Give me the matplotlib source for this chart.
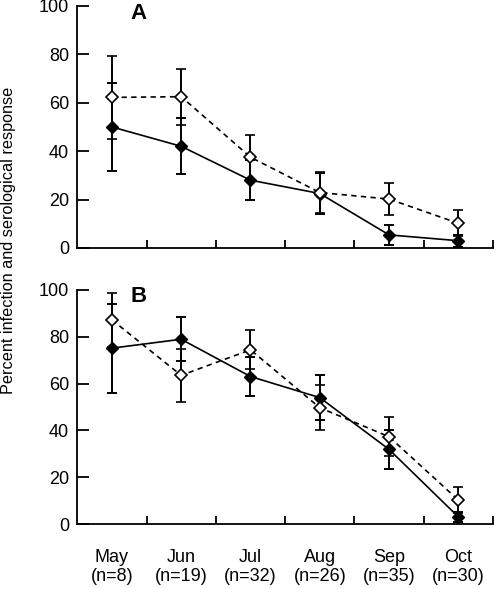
import matplotlib
matplotlib.use('Agg')
import matplotlib.pyplot as plt

plt.rcParams['font.family'] = ['Liberation Sans', 'DejaVu Sans']

months = ['May', 'Jun', 'Jul', 'Aug', 'Sep', 'Oct']
sizes = [8, 19, 32, 26, 35, 30]

# panel A
a_filled = [50.0, 42.0, 28.0, 22.5, 5.4, 3.0]
a_filled_err = [18.0, 11.6, 8.2, 8.3, 4.0, 2.5]
a_open = [62.2, 62.5, 37.5, 22.9, 20.2, 10.2]
a_open_err = [17.0, 11.5, 9.0, 8.3, 6.7, 5.4]

# panel B
b_filled = [75.1, 78.9, 63.0, 54.0, 31.9, 3.1]
b_filled_err = [19.0, 9.3, 8.4, 9.7, 8.4, 2.0]
b_open = [87.2, 63.5, 74.4, 49.7, 37.3, 10.3]
b_open_err = [11.6, 11.4, 8.4, 9.6, 8.4, 5.4]


def draw_panel(ax, filled, filled_err, opn, opn_err, letter):
    x = [i + 0.5 for i in range(len(months))]
    ax.errorbar(x, filled, yerr=filled_err, color='black', lw=1.2, ls='-',
                marker='D', ms=6.2, mfc='black', mec='black',
                elinewidth=1.4, capsize=3.3, capthick=1.4, zorder=3)
    ax.errorbar(x, opn, yerr=opn_err, color='black', lw=1.2, ls=(0, (3.2, 2.6)),
                marker='D', ms=6.2, mfc='white', mec='black', mew=1.2,
                elinewidth=1.4, capsize=3.3, capthick=1.4, zorder=4)
    ax.set_xlim(0, 6)
    ax.set_ylim(0, 100)
    ax.set_yticks(range(0, 101, 20))
    ax.set_xticks(range(1, 7))
    ax.set_xticklabels([])
    ax.spines['top'].set_visible(False)
    ax.spines['right'].set_visible(False)
    ax.spines['left'].set_linewidth(1.3)
    ax.spines['bottom'].set_linewidth(1.3)
    ax.tick_params(axis='y', direction='in', length=8.5, width=1.3,
                   labelsize=13, pad=6)
    ax.tick_params(axis='x', direction='in', length=6, width=1.3)
    ax.text(0.88, 97, letter, fontsize=16, fontweight='bold',
            ha='center', va='center')


fig = plt.figure(figsize=(4.95, 5.89), dpi=100)
ax_a = fig.add_axes([0.156, 0.579, 0.84, 0.411])
ax_b = fig.add_axes([0.156, 0.110, 0.84, 0.398])

draw_panel(ax_a, a_filled, a_filled_err, a_open, a_open_err, 'A')
draw_panel(ax_b, b_filled, b_filled_err, b_open, b_open_err, 'B')

for i, (m, n) in enumerate(zip(months, sizes)):
    ax_b.text(i + 0.5, -10.5, '%s\n(n=%d)' % (m, n), ha='center', va='top',
              fontsize=13, linespacing=1.15, clip_on=False)

fig.text(0.018, 1 - 240 / 589, 'Percent infection and serological response',
         rotation=90, ha='center', va='center', fontsize=11.7)

plt.savefig('out.png', dpi=100)
